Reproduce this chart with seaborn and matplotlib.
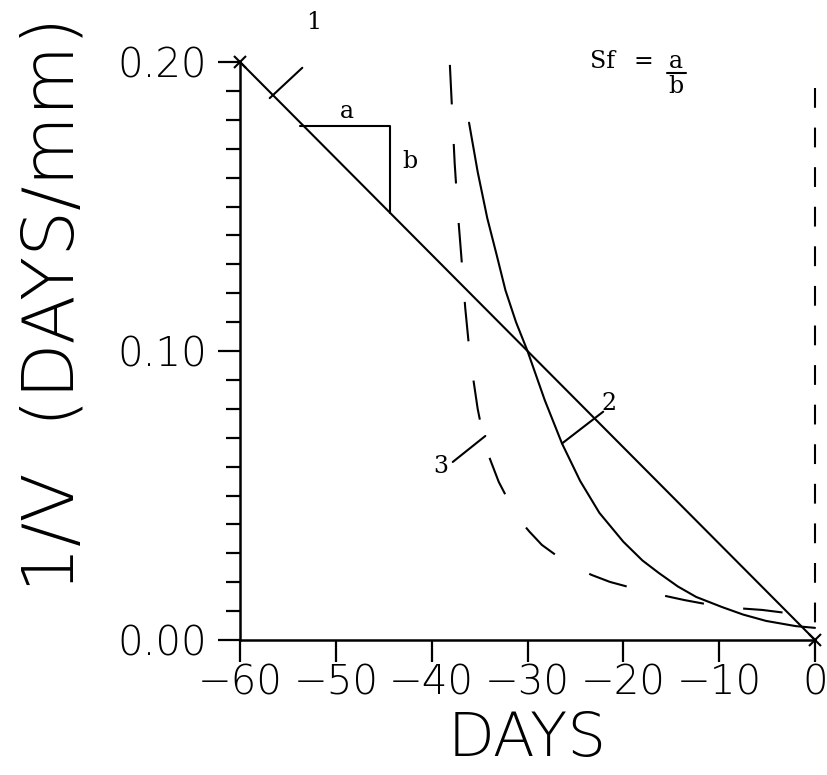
import numpy as np
import pandas as pd
import matplotlib
matplotlib.use("Agg")
import matplotlib.pyplot as plt
from matplotlib.ticker import MultipleLocator
import seaborn as sns

# ---- data ----
line1_x = [-60.0, 0.0]
line1_y = [0.200, 0.000]

curve2_x = [-36.1, -35.2, -34.2, -33.2, -32.3, -31.2, -30.0, -28.2, -26.4, -24.5, -22.5,
            -20.0, -18.0, -16.3, -14.3, -12.4, -9.7, -7.5, -5.1, -2.0, 0.0]
curve2_y = [0.179, 0.162, 0.146, 0.133, 0.121, 0.110, 0.100, 0.083, 0.068, 0.055, 0.044,
            0.034, 0.0275, 0.0232, 0.0185, 0.0149, 0.0114, 0.0088, 0.0066, 0.0048, 0.0042]

curve3_x = [-38.1, -37.6, -37.2, -36.9, -36.5, -36.0, -35.2, -34.4, -33.0, -31.1, -29.8,
            -28.5, -26.8, -25.1, -23.3, -21.4, -17.5, -13.6, -9.7, -5.5, -1.4, 0.0]
curve3_y = [0.199, 0.165, 0.145, 0.1325, 0.115, 0.098, 0.080, 0.0668, 0.0547, 0.0426, 0.0375,
            0.0329, 0.0288, 0.0253, 0.0225, 0.0201, 0.0166, 0.0138, 0.0114, 0.0104, 0.0087, 0.0085]

vline_x = [0.0, 0.0]
vline_y = [0.191, 0.0]

tri_x = [-53.7, -44.3, -44.3]
tri_y = [0.178, 0.178, 0.1477]

x_ticks = [-60, -50, -40, -30, -20, -10, 0]
y_ticks = [0.00, 0.10, 0.20]
y_tick_labels = ["0.00", "0.10", "0.20"]

sns.set_style("ticks")
plt.rcParams["font.family"] = ["DejaVu Sans"]
plt.rcParams["text.color"] = "black"
plt.rcParams["axes.labelcolor"] = "black"
plt.rcParams["xtick.color"] = "black"
plt.rcParams["ytick.color"] = "black"

fig = plt.figure(figsize=(8.28, 7.75), dpi=100)
ax = fig.add_axes([240 / 828, (775 - 640) / 775, 575 / 828, 578 / 775])

lw = 1.5
sns.lineplot(x=line1_x, y=line1_y, sort=False, estimator=None, color="black", lw=lw, ax=ax)
sns.lineplot(x=curve2_x, y=curve2_y, sort=False, estimator=None, color="black", lw=lw, ax=ax)
sns.lineplot(x=curve3_x, y=curve3_y, sort=False, estimator=None, color="black", lw=lw, ax=ax)
ax.get_lines()[-1].set_linestyle((0, (19, 19)))
sns.lineplot(x=vline_x, y=vline_y, sort=False, estimator=None, color="black", lw=lw, ax=ax)
ax.get_lines()[-1].set_linestyle((0, (9.5, 9.5)))
sns.lineplot(x=tri_x, y=tri_y, sort=False, estimator=None, color="black", lw=lw, ax=ax)
for ln in ax.get_lines():
    ln.set_clip_on(False)
    ln.set_solid_joinstyle("round")

# endpoint markers
ax.plot(line1_x, line1_y, ls="none", marker="x", ms=8, mew=1.5, color="black", clip_on=False, zorder=5)

ax.set_xlim(-60, 0)
ax.set_ylim(0, 0.2)

# leaders
ax.plot([-56.9, -53.5], [0.1875, 0.198], color="black", lw=lw, clip_on=False)
ax.plot([-26.4, -22.1], [0.068, 0.079], color="black", lw=lw, clip_on=False)
ax.plot([-37.8, -34.4], [0.0616, 0.0706], color="black", lw=lw, clip_on=False)

# labels
lab_kw = dict(ha="center", va="center", fontsize=17, color="black", family="DejaVu Serif")
ax.text(-52.3, 0.2138, "1", clip_on=False, **lab_kw)
ax.text(-21.5, 0.0820, "2", clip_on=False, **lab_kw)
ax.text(-39.1, 0.0602, "3", clip_on=False, **lab_kw)
ax.text(-48.8, 0.1827, "a", clip_on=False, **lab_kw)
ax.text(-42.3, 0.1657, "b", clip_on=False, **lab_kw)

# Sf = a / b
ax.text(-23.5, 0.2003, "Sf", ha="left", va="center", fontsize=17, family="DejaVu Serif", clip_on=False)
ax.text(-17.9, 0.2003, "=", ha="center", va="center", fontsize=17, family="DejaVu Serif", clip_on=False)
ax.text(-14.5, 0.2003, "a", ha="center", va="center", fontsize=17, family="DejaVu Serif", clip_on=False)
ax.plot([-15.4, -13.45], [0.1962, 0.1962], color="black", lw=1.5, clip_on=False)
ax.text(-14.5, 0.1915, "b", ha="center", va="center", fontsize=17, family="DejaVu Serif", clip_on=False)

# spines and ticks
sns.despine(ax=ax)
for s in ["left", "bottom"]:
    ax.spines[s].set_linewidth(1.8)
    ax.spines[s].set_color("black")

ax.set_xticks(x_ticks)
ax.set_yticks(y_ticks)
ax.set_yticklabels(y_tick_labels)
ax.yaxis.set_minor_locator(MultipleLocator(0.01))
ax.tick_params(axis="x", which="major", direction="out", length=16, width=1.6, pad=1,
               labelsize=29, colors="black")
ax.tick_params(axis="y", which="major", direction="out", length=16, width=1.6, pad=8,
               labelsize=29, colors="black")
ax.tick_params(axis="y", which="minor", direction="out", length=10, width=1.6, colors="black")
for t in ax.get_xticklabels() + ax.get_yticklabels():
    t.set_fontweight("light")

ax.set_xlabel("DAYS", fontsize=44, fontweight="light", color="black")
ax.xaxis.label.set_va("baseline")
ax.xaxis.set_label_coords(0.5, (640 - 756) / 578)

ax.set_ylabel("1/V  (DAYS/mm)", fontsize=52, fontweight="light", color="black")
ax.yaxis.label.set_rotation_mode("default")
ax.yaxis.label.set_va("center")
ax.yaxis.label.set_ha("center")
ax.yaxis.set_label_coords((54 - 240) / 575, (640 - 304) / 578)

fig.savefig("out.png", dpi=100)
